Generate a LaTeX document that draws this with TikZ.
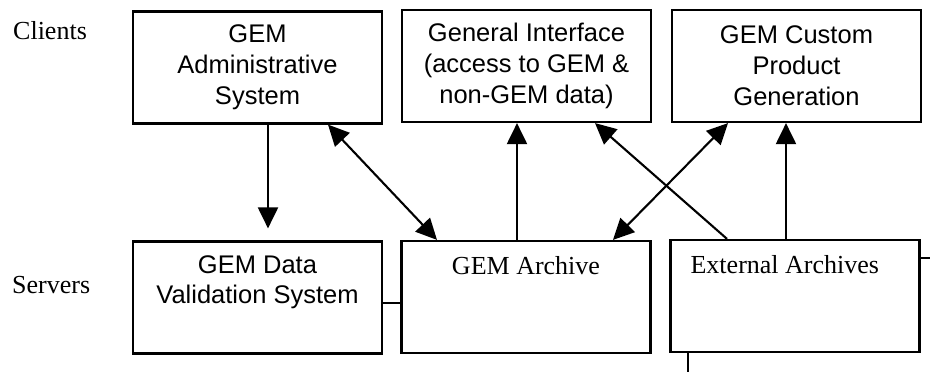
\documentclass[tikz,border=0pt]{standalone}
\usepackage{fontspec}
\setmainfont{Liberation Serif}
\newfontfamily\sansf{Liberation Sans}
\usetikzlibrary{arrows.meta,calc}
\begin{document}
\begin{tikzpicture}[x=1pt,y=-1pt,
  box/.style={draw,line width=2.2pt,inner sep=0pt,minimum width=249pt,minimum height=112pt,align=center,font=\sansf\fontsize{25.5}{31}\selectfont},
  serif/.style={font=\fontsize{26}{30}\selectfont,inner sep=0pt},
  conn/.style={line width=2.1pt},
  arr/.style={conn,-{Triangle[length=21pt,width=20pt]}},
  darr/.style={conn,{Triangle[length=21pt,width=20pt]}-{Triangle[length=21pt,width=20pt]}}]
\fill[white] (0,0) rectangle (930,372);
\useasboundingbox (0,0) rectangle (930,372);

% boxes
\node[box] (b1) at (257.5,67.5) {GEM\\Administrative\\System};
\node[box] (b2) at (526.5,66) {General Interface\\(access to GEM \&\\non-GEM data)};
\node[box] (b3) at (796.5,66) {GEM Custom\\Product\\Generation};
\node[box] (b4) at (257.5,297.5) {};
\node[box] (b5) at (526,297) {};
\node[box] (b6) at (795,296) {};

% texts
\node[serif,anchor=base west] (clients) at (13,39) {Clients};
\node[serif,anchor=base west] (servers) at (12,293) {Servers};
\node[anchor=north,align=center,inner sep=0pt,font=\sansf\fontsize{25.5}{30}\selectfont] (t4) at ([yshift=-15pt]b4.north) {GEM Data\\Validation System};
\node[serif,anchor=base] (t5) at ([yshift=-35pt]b5.north) {GEM Archive};
\node[serif,anchor=base west] (t6) at ([xshift=21pt,yshift=-35pt]b6.north west) {External Archives};

% connectors
\draw[arr] ([xshift=10.5pt]b1.south) -- ([xshift=10.5pt,yshift=12pt]b4.north);
\draw[darr] ([xshift=70.5pt]b1.south) -- ([xshift=-89pt]b5.north);
\draw[arr] ([xshift=-9pt]b5.north) -- ([xshift=-9pt]b5.north |- b2.south);
\draw[arr] ([xshift=-68pt]b6.north) -- ([xshift=68.5pt]b2.south);
\draw[darr] ([xshift=-68.5pt]b3.south) -- ([xshift=87pt]b5.north);
\draw[arr] ([xshift=-9pt]b6.north) -- ([xshift=-9pt]b6.north |- b3.south);

\draw[conn] ([yshift=-5.5pt]b4.east) -- ([yshift=-5.5pt]b4.east -| b5.west);
\coordinate (e1) at (930,258);
\coordinate (e2) at (688,372);
\draw[conn] (e1 -| b6.east) -- (e1);
\draw[conn] (e2 |- b6.south) -- (e2);
\end{tikzpicture}
\end{document}
